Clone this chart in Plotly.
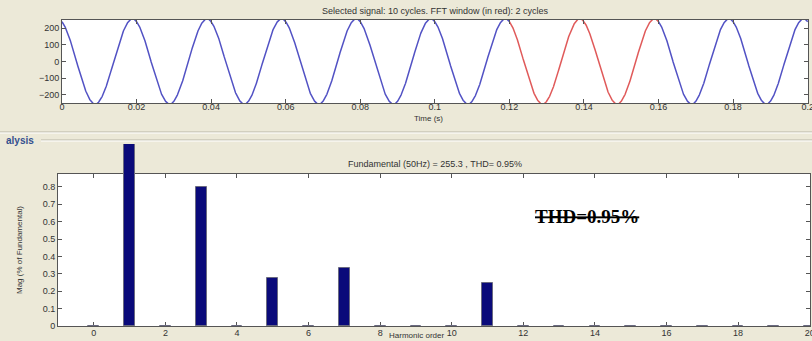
import numpy as np
import plotly.graph_objects as go

# ---- data -------------------------------------------------------------
fundamental_hz = 50
fundamental_mag = 255.3          # peak value of the 50 Hz component
phase_rad = 0.35                 # phase of the fundamental
n_cycles = 10
fft_window = [0.12, 0.16]        # two cycles analysed (drawn in red)

harmonic_order = list(range(0, 21))
# magnitude in % of fundamental (fundamental itself = 100 %)
harmonic_mag = [0.0, 100.0, 0.0, 0.80, 0.0, 0.275, 0.0, 0.335, 0.0, 0.0,
                0.0, 0.25, 0.0, 0.0, 0.0, 0.0, 0.0, 0.0, 0.0, 0.0, 0.0]

time_ticks = [0, 0.02, 0.04, 0.06, 0.08, 0.1, 0.12, 0.14, 0.16, 0.18, 0.2]
time_labels = ["0", "0.02", "0.04", "0.06", "0.08", "0.1", "0.12", "0.14", "0.16", "0.18", "0.2"]
volt_ticks = [-200, -100, 0, 100, 200]
order_ticks = list(range(0, 21, 2))
mag_ticks = [0, 0.1, 0.2, 0.3, 0.4, 0.5, 0.6, 0.7, 0.8]
mag_labels = ["0", "0.1", "0.2", "0.3", "0.4", "0.5", "0.6", "0.7", "0.8"]

# ---- signal rebuilt from its spectrum ----------------------------------
t_end = n_cycles / fundamental_hz
t = np.linspace(0, t_end, 4001)
w = 2 * np.pi * fundamental_hz
sig = np.zeros_like(t)
for k, m in zip(harmonic_order, harmonic_mag):
    if k > 0 and m > 0:
        sig += fundamental_mag * m / 100.0 * np.cos(k * (w * t + phase_rad))

inside = (t > fft_window[0]) & (t < fft_window[1])
in_win = (t >= fft_window[0]) & (t <= fft_window[1])
sig_blue = np.where(inside, np.nan, sig)
sig_red = np.where(in_win, sig, np.nan)

BG = "#ECE9D8"
TXT = "#333333"
AX = "#555555"
FONT = "Liberation Sans, Arial, sans-serif"

W, H = 812, 341
def px_x(v):
    return v / W
def px_y(v):
    return 1 - v / H

fig = go.Figure()

fig.add_trace(go.Scatter(x=t, y=sig_blue, mode="lines",
                         line=dict(color="#5252C4", width=1.5),
                         xaxis="x", yaxis="y", hoverinfo="skip"))
fig.add_trace(go.Scatter(x=t, y=sig_red, mode="lines",
                         line=dict(color="#E05A5A", width=1.5),
                         xaxis="x", yaxis="y", hoverinfo="skip"))

# empty trace so the spectrum axes are drawn
fig.add_trace(go.Scatter(x=[None], y=[None], xaxis="x2", yaxis="y2",
                         mode="markers", hoverinfo="skip"))

# spectrum bars on a taller, same-scale axis so the fundamental runs past the box
fig.add_trace(go.Bar(x=harmonic_order, y=harmonic_mag, width=0.3,
                     marker=dict(color="#0A0A7A", line=dict(color="#6A6A80", width=1)),
                     xaxis="x3", yaxis="y3", hoverinfo="skip"))

tickfont = dict(family=FONT, size=9, color=TXT)
common_ax = dict(showgrid=False, zeroline=False, showline=True, linecolor=AX,
                 linewidth=1, mirror="ticks", ticks="inside", ticklen=4,
                 tickcolor=AX, tickfont=tickfont, ticklabeloverflow="allow",
                 automargin=False)

top_x_dom = [px_x(62), px_x(808)]
top_y_dom = [px_y(103), px_y(20)]
bot_x_dom = [px_x(58), px_x(810)]
bot_y_dom = [px_y(326), px_y(174)]
tall_y_dom = [px_y(326), px_y(144)]
mag_per_px = 0.1 / 17.4
ymax_bot = (326 - 174) * mag_per_px
ymax_tall = (326 - 144) * mag_per_px

fig.update_layout(
    width=W, height=H,
    margin=dict(l=0, r=0, t=0, b=0, autoexpand=False),
    paper_bgcolor=BG, plot_bgcolor="rgba(0,0,0,0)",
    showlegend=False,
    font=dict(family=FONT, size=9, color=TXT),
    xaxis=dict(domain=top_x_dom, range=[0, t_end * 1.0005], anchor="y",
               tickvals=time_ticks, ticktext=time_labels, ticklabelstandoff=-5,
               **common_ax),
    yaxis=dict(domain=top_y_dom, range=[-250, 250], anchor="x",
               tickvals=volt_ticks, **common_ax),
    xaxis2=dict(domain=bot_x_dom, range=[-1, 20.01], anchor="y2",
                tickvals=order_ticks, ticklabelstandoff=-2,
                **common_ax),
    yaxis2=dict(domain=bot_y_dom, range=[0, ymax_bot], anchor="x2",
                tickvals=mag_ticks, ticktext=mag_labels,
                title=dict(text="Mag (% of Fundamental)", font=dict(size=8, color=TXT), standoff=18),
                **common_ax),
    xaxis3=dict(domain=bot_x_dom, range=[-1, 20.01], anchor="y3", visible=False),
    yaxis3=dict(domain=tall_y_dom, range=[0, ymax_tall], anchor="x3", visible=False),
    bargap=0,
)

# white plotting boxes
for xr, yr in (("x domain", "y domain"), ("x2 domain", "y2 domain")):
    fig.add_shape(type="rect", xref=xr, yref=yr, x0=0, x1=1, y0=0, y1=1,
                  fillcolor="white", line=dict(width=0), layer="below")

# etched separator lines of the analysis panel
fig.add_shape(type="line", xref="paper", yref="paper", x0=0, x1=1,
              y0=px_y(132), y1=px_y(132), line=dict(color="#B8B5A6", width=1))
fig.add_shape(type="line", xref="paper", yref="paper", x0=0, x1=1,
              y0=px_y(133), y1=px_y(133), line=dict(color="#FFFFFF", width=1))
fig.add_shape(type="line", xref="paper", yref="paper", x0=px_x(41), x1=1,
              y0=px_y(140), y1=px_y(140), line=dict(color="#B8B5A6", width=1))
fig.add_shape(type="line", xref="paper", yref="paper", x0=px_x(41), x1=1,
              y0=px_y(141), y1=px_y(141), line=dict(color="#FFFFFF", width=1))

fig.add_annotation(text="Selected signal: 10 cycles. FFT window (in red): 2 cycles",
                   xref="paper", yref="paper", x=px_x(435), y=px_y(18),
                   xanchor="center", yanchor="bottom", showarrow=False,
                   font=dict(family=FONT, size=9, color=TXT))
fig.add_annotation(text="Time (s)", xref="paper", yref="paper",
                   x=px_x(428), y=px_y(118), xanchor="center", yanchor="middle",
                   showarrow=False, font=dict(family=FONT, size=8, color=TXT))
fig.add_annotation(text="Fundamental (50Hz) = 255.3 , THD= 0.95%",
                   xref="paper", yref="paper", x=px_x(435), y=px_y(171),
                   xanchor="center", yanchor="bottom", showarrow=False,
                   font=dict(family=FONT, size=9, color=TXT))
fig.add_annotation(text="Harmonic order", xref="paper", yref="paper",
                   x=px_x(417), y=0, xanchor="center", yanchor="bottom",
                   borderpad=0, showarrow=False, font=dict(family=FONT, size=8, color=TXT))
fig.add_annotation(text="<b>alysis</b>", xref="paper", yref="paper",
                   x=px_x(4), y=px_y(140), xanchor="left", yanchor="middle", showarrow=False,
                   font=dict(family=FONT, size=10, color="#34508F"))
fig.add_annotation(text="<b><s>THD=0.95%</s></b>", xref="paper", yref="paper",
                   x=px_x(587), y=px_y(216), xanchor="center", yanchor="middle",
                   showarrow=False,
                   font=dict(family="Liberation Serif, Times New Roman, serif", size=19, color="black"))

fig.write_html("out.html")
